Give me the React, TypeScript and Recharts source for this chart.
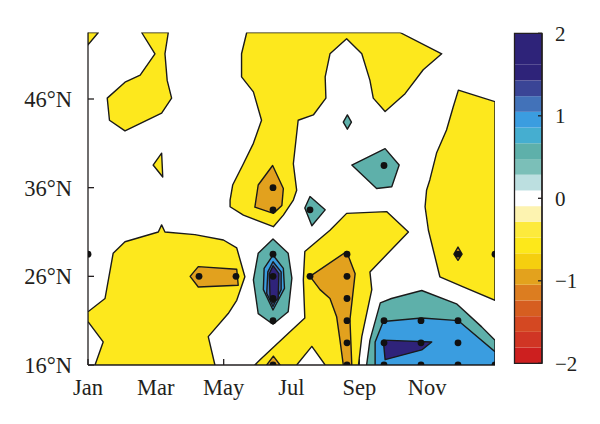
import React from 'react';
import { ScatterChart, Scatter, XAxis, YAxis, ComposedChart, ReferenceArea, Line } from 'recharts';

// ---- axes ----
const monthTicks = [0, 1.833, 3.667, 5.5, 7.333, 9.167];
const monthLabels = ['Jan', 'Mar', 'May', 'Jul', 'Sep', 'Nov'];
const latTicks = [16, 26, 36, 46];

// ---- colour bar ----
const cbTicks = [-2, -1, 0, 1, 2];
const cbBounds = [-2, -1.81, -1.619, -1.429, -1.238, -1.048, -0.857, -0.667, -0.476, -0.286, -0.095,
  0.095, 0.286, 0.476, 0.667, 0.857, 1.048, 1.238, 1.429, 1.619, 1.81, 2];
const cbColors = ['#cd1f1f', '#d03524', '#d44822', '#d65e20', '#dc7d20', '#e3a21d', '#f5cf0f', '#fde81a',
  '#fdea3c', '#fdf3b0', '#ffffff', '#bcdfe0', '#7bbfb8', '#5eb0aa', '#45aed0', '#3b9de0', '#4272b9',
  '#3a4596', '#2e2379', '#2e2379', '#2e2379'];

// ---- contour regions (x = month index 0..11, y = latitude) ----
type P = [number, number];
const yellowCorner: P[] = [[0, 53.5], [0.28, 53.5], [0, 52.1]];
const yellowNW: P[] = [[1.45, 53.5], [1.81, 51.1], [1.41, 48.7], [1.0, 47.9], [0.52, 46.1], [0.58, 43.6], [1.0, 42.4],
  [1.99, 44.4], [2.26, 46.1], [2.14, 48.1], [2.08, 51.1], [2.17, 53.5]];
const yellowSliver: P[] = [[1.99, 39.9], [1.76, 38.55], [2.02, 37.2]];
const yellowNorth: P[] = [[4.29, 53.5], [4.15, 51.1], [4.15, 48.5], [4.47, 46.8], [4.69, 43.6], [4.47, 41.0], [4.2, 38.7],
  [3.91, 36.3], [3.84, 34.6], [3.84, 33.85], [4.2, 32.9], [5.01, 31.6], [5.28, 32.9], [5.55, 34.6], [5.64, 35.7],
  [5.55, 38.7], [5.68, 43.6], [6.09, 44.2], [6.43, 46.1], [6.41, 48.5], [6.54, 51.1], [6.99, 52.8], [7.4, 51.1],
  [7.62, 48.1], [7.71, 46.1], [8.03, 44.6], [8.57, 46.6], [9.06, 49.3], [9.56, 51.1], [8.43, 53.5]];
const yellowEast: P[] = [[10.01, 47.0], [10.46, 46.4], [11, 45.7], [11, 23.3], [10.14, 24.8], [9.51, 25.95], [9.2, 31.2],
  [9.11, 33.85], [9.15, 35.7], [9.24, 36.9], [9.42, 39.9], [9.69, 42.5], [9.87, 45.1]];
const yellowSW: P[] = [[0, 22.0], [0.46, 23.5], [0.68, 28.6], [1.0, 29.9], [1.9, 31.0], [1.99, 31.8], [2.08, 31.0],
  [2.89, 30.7], [3.66, 30.1], [4.02, 29.2], [4.24, 25.95], [4.02, 23.3], [3.79, 21.8], [3.25, 19.2], [3.43, 16],
  [0.19, 16], [0.41, 18.6], [0, 20.9]];
const yellowCentral: P[] = [[6.99, 33.1], [8.07, 33.3], [8.66, 31.0], [7.62, 26.5], [7.67, 24.5], [7.4, 19.2], [7.31, 16],
  [6.41, 16], [6.05, 18.1], [5.64, 16], [4.51, 16], [4.65, 16.6], [5.51, 19.95], [5.86, 21.3], [5.82, 25.6],
  [5.86, 28.8], [6.54, 31.2]];

const orangeJun36: P[] = [[4.99, 38.5], [5.28, 35.9], [5.24, 34.0], [5.01, 33.1], [4.51, 33.8], [4.6, 36.3]];
const orangeApr: P[] = [[2.76, 26.0], [2.98, 27.1], [4.02, 26.8], [4.06, 25.0], [2.98, 24.8]];
const orangeAug: P[] = [[6.99, 28.8], [7.22, 26.3], [7.08, 21.1], [7.13, 16], [6.9, 16], [6.81, 18.8], [6.72, 21.45],
  [6.54, 23.5], [6.27, 24.5], [6.0, 26.0]];
const orangeJunSouth: P[] = [[4.83, 16], [5.01, 17.0], [5.19, 16]];
const orangeNov: P[] = [[10, 29.3], [10.11, 28.5], [10, 27.8], [9.89, 28.5]];

const tealJun: P[] = [[5.0, 30.2], [5.41, 28.6], [5.51, 25.8], [5.41, 22.0], [5.0, 20.6], [4.6, 21.8], [4.47, 25.6], [4.6, 28.6]];
const tealAug43: P[] = [[7.01, 44.2], [7.12, 43.4], [7.01, 42.6], [6.9, 43.4]];
const tealSep38: P[] = [[8.03, 40.4], [8.41, 38.55], [8.21, 36.1], [7.8, 35.9], [7.13, 38.55]];
const tealJul33: P[] = [[6.0, 35.0], [6.41, 33.5], [6.05, 31.7], [5.86, 33.7]];
const tealSE: P[] = [[7.53, 16], [7.62, 18.8], [7.9, 23.0], [8.2, 23.5], [9.02, 24.4], [9.96, 22.9], [10.64, 20.3], [11, 18.8], [11, 16]];

const blueJun: P[] = [[5.0, 28.4], [5.28, 26.9], [5.31, 24.65], [5.0, 22.2], [4.74, 24.5], [4.76, 26.9]];
const blueSE: P[] = [[7.76, 16], [7.76, 18.6], [7.98, 20.9], [9.02, 21.3], [10.01, 21.0], [11, 17.5], [11, 16]];
const blue2Jun: P[] = [[5.0, 27.65], [5.22, 26.5], [5.22, 24.5], [5.0, 22.6], [4.83, 24.1], [4.86, 26.5]];
const navyJun: P[] = [[5.0, 27.2], [5.16, 26.3], [5.14, 23.5], [5.0, 23.0], [4.92, 23.7], [4.9, 26.3]];
const navySE: P[] = [[7.98, 18.8], [9.29, 18.6], [9.02, 17.7], [8.03, 16.6]];

// significance dots
const dots: P[] = [[0, 28.5], [11, 28.5], [3, 26], [4, 26], [5, 36], [5, 33.5], [5, 28.5], [5, 26], [5, 23.5], [5, 21],
  [5, 16], [6, 33.5], [6, 26], [7, 28.5], [7, 26], [7, 23.5], [7, 21], [7, 18.5], [7, 16], [8, 38.5], [8, 21], [8, 18.5],
  [8, 16], [9, 21], [9, 18.5], [9, 16], [10, 21], [10, 18.5], [10, 16], [11, 16], [10, 28.5]];

const INK = '#231f20';
const YEL = '#fde81d';
const ORG = '#e2a11e';
const TEAL = '#5eb0aa';
const BLUE = '#3a9de0';
const BLUE2 = '#4272b9';
const NAVY = '#2f237a';

const layers: { pts: P[]; color: string }[] = [
  { pts: yellowCorner, color: YEL }, { pts: yellowNW, color: YEL }, { pts: yellowSliver, color: YEL },
  { pts: yellowNorth, color: YEL }, { pts: yellowEast, color: YEL }, { pts: yellowSW, color: YEL },
  { pts: yellowCentral, color: YEL },
  { pts: orangeJun36, color: ORG }, { pts: orangeApr, color: ORG }, { pts: orangeAug, color: ORG },
  { pts: orangeJunSouth, color: ORG }, { pts: orangeNov, color: ORG },
  { pts: tealJun, color: TEAL }, { pts: tealAug43, color: TEAL }, { pts: tealSep38, color: TEAL },
  { pts: tealJul33, color: TEAL }, { pts: tealSE, color: TEAL },
  { pts: blueJun, color: BLUE }, { pts: blueSE, color: BLUE }, { pts: blue2Jun, color: BLUE2 },
  { pts: navyJun, color: NAVY }, { pts: navySE, color: NAVY },
];

const toPts = (a: P[]) => a.map(([x, y]) => ({ x, y }));
const emptyShape = () => <g />;
const polyLine = (fill: string) => (p: any) => {
  const pts = (p.points || []) as { x: number; y: number }[];
  if (!pts.length) return <g />;
  const d = pts.map((q, i) => `${i ? 'L' : 'M'}${q.x},${q.y}`).join('') + 'Z';
  return <path d={d} fill={fill} stroke="#1a1a1a" strokeWidth={1.4} strokeLinejoin="round" />;
};
const dotShape = (p: any) => <circle cx={p.cx} cy={p.cy} r={3.4} fill="#111" />;

const tickFont = { fontFamily: '"Liberation Serif", serif', fontSize: 22.5, fill: INK };
const cbFont = { fontFamily: '"Liberation Serif", serif', fontSize: 21, fill: INK, textAnchor: 'start' };
const cbData = [{ x: 0, y: -2 }, { x: 1, y: 2 }];

export default function App() {
  return (
    <div style={{ position: 'absolute', left: 0, top: 0, width: 600, height: 424, background: '#fff' }}>
      <div style={{ position: 'absolute', left: 0, top: 0 }}>
        <ScatterChart width={600} height={424} margin={{ top: 32.5, right: 105, bottom: 0, left: 0 }}>
          <XAxis xAxisId="b" type="number" dataKey="x" domain={[0, 11]} allowDataOverflow ticks={monthTicks}
            tickFormatter={(v: number, i: number) => monthLabels[i]} height={59} tickSize={-6} tickMargin={20}
            tick={tickFont} stroke={INK} strokeWidth={1.3} interval={0} />
          <XAxis xAxisId="t" orientation="top" type="number" dataKey="x" domain={[0, 11]} allowDataOverflow
            ticks={monthTicks} height={0} tickSize={-6} tick={false} stroke={INK} strokeWidth={1.3} interval={0} />
          <YAxis yAxisId="l" type="number" dataKey="y" domain={[16, 53.5]} allowDataOverflow ticks={latTicks}
            tickFormatter={(v: number) => `${v}°N`} width={88} tickSize={-6} tickMargin={22} tick={tickFont}
            stroke={INK} strokeWidth={1.3} interval={0} />
          <YAxis yAxisId="r" orientation="right" type="number" dataKey="y" domain={[16, 53.5]} allowDataOverflow
            ticks={latTicks} width={0} tickSize={-6} tick={false} stroke={INK} strokeWidth={1.3} interval={0} />
          {layers.map((l, k) => (
            <Scatter key={k} xAxisId="b" yAxisId="l" data={toPts(l.pts)} isAnimationActive={false}
              shape={emptyShape} line={polyLine(l.color)} lineType="joint" legendType="none" />
          ))}
          <Scatter xAxisId="b" yAxisId="l" data={toPts(dots)} isAnimationActive={false} shape={dotShape} legendType="none" />
          <Scatter xAxisId="t" yAxisId="r" data={toPts(dots)} isAnimationActive={false} shape={emptyShape} legendType="none" />
        </ScatterChart>
      </div>
      <div style={{ position: 'absolute', left: 500, top: 0 }}>
        <ComposedChart width={100} height={424} data={cbData} margin={{ top: 33.3, right: 0, bottom: 60.7, left: 14.5 }}>
          <XAxis type="number" dataKey="x" domain={[0, 1]} hide />
          <YAxis type="number" orientation="right" domain={[-2, 2]} ticks={cbTicks} width={58} tickSize={-4}
            tickMargin={17} tick={cbFont} stroke={INK} strokeWidth={1.3} interval={0}
            tickFormatter={(v: number) => (v < 0 ? `\u2212${-v}` : `${v}`)} />
          <Line dataKey="y" stroke="none" dot={false} activeDot={false} isAnimationActive={false} />
          {cbColors.map((c, i) => (
            <ReferenceArea key={i} x1={0} x2={1} y1={cbBounds[i]} y2={cbBounds[i + 1]} fill={c} fillOpacity={1} stroke="none" />
          ))}
          <ReferenceArea x1={0} x2={1} y1={-2} y2={2} fill="none" stroke={INK} strokeWidth={1.3} />
        </ComposedChart>
      </div>
    </div>
  );
}
